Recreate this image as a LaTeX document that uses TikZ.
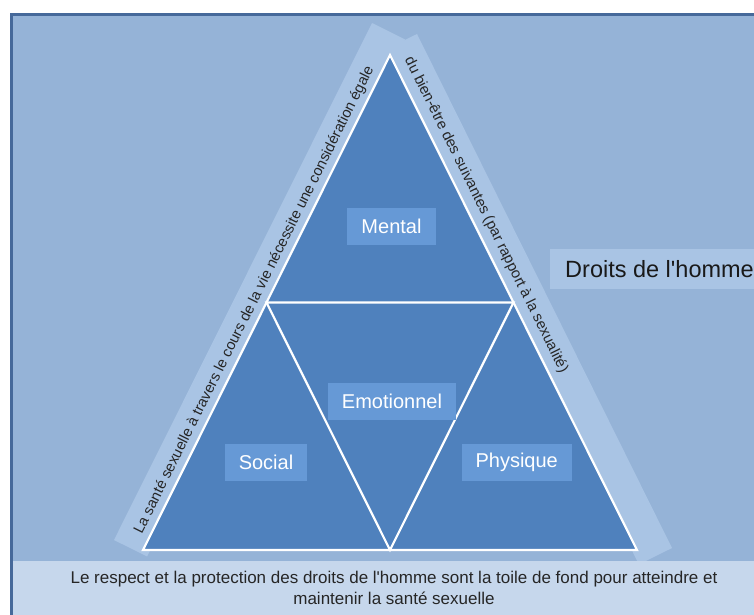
\documentclass[tikz,border=0pt]{standalone}
\usepackage{fontspec}
\setmainfont{Liberation Sans}
\usepackage{xcolor}
\usetikzlibrary{calc}
\definecolor{framebg}{HTML}{95B3D7}
\definecolor{frameline}{HTML}{46699A}
\definecolor{bandfill}{HTML}{A9C4E4}
\definecolor{footfill}{HTML}{C6D7EC}
\definecolor{trifill}{HTML}{4F81BD}
\definecolor{tagfill}{HTML}{6699D6}
\tikzset{
  base/.style={align=center, text=black},
  tag/.style={base, rectangle, fill=tagfill, text=white, font=\fontsize{20}{24}\selectfont, inner xsep=14pt, minimum height=37pt},
  bandtext/.style={base, text=black!85, font=\fontsize{14.8}{17}\selectfont, inner sep=0pt},
  band/.style={fill=bandfill},
  edge/.style={draw=white, line width=2.2pt, line join=miter}
}

\begin{document}
\begin{tikzpicture}[x=1pt, y=-1pt]
  \useasboundingbox (0,0) rectangle (754,614);
  \clip (0,0) rectangle (754,614);
  \fill[white] (0,0) rectangle (754,614);

  % Frame
  \draw[frameline, fill=framebg, line width=2.5pt] (11.25,14.25) rectangle (780,640);

  % Side bands
  \coordinate (rtop) at (417,34);
  \coordinate (rbot) at (672,548);
  \coordinate (rbotin) at (638.9,564.4);
  \coordinate (rtopin) at (383.9,50.4);
  \fill[band] (rtop) -- (rbot) -- (rbotin) -- (rtopin) -- cycle;
  \coordinate (ltop) at (372,23);
  \coordinate (lbot) at (114,540);
  \coordinate (lbotin) at (147.1,556.5);
  \coordinate (ltopin) at (405.1,39.5);
  \fill[band] (ltop) -- (lbot) -- (lbotin) -- (ltopin) -- cycle;

  % Bottom band
  \fill[footfill] (12.5,561) rectangle (780,640);
  \node[base, font=\fontsize{17}{21}\selectfont, text=black!85] (footer) at (394,588)
    {Le respect et la protection des droits de l\textquotesingle homme sont la toile de fond pour atteindre et\\maintenir la santé sexuelle};

  % Triangle
  \coordinate (apex) at (390,55);
  \coordinate (bl) at (143,550);
  \coordinate (br) at (637,550);
  \coordinate (ml) at ($(apex)!0.5!(bl)$);
  \coordinate (mr) at ($(apex)!0.5!(br)$);
  \coordinate (mb) at ($(bl)!0.5!(br)$);
  \fill[trifill] (apex) -- (bl) -- (br) -- cycle;
  \draw[edge] (apex) -- (bl) -- (br) -- cycle;
  \draw[edge] (ml) -- (mr) -- (mb) -- cycle;

  % Labels
  \node[tag] (mental) at (391.5,226) {Mental};
  \node[tag] (emotion) at (392,401) {Emotionnel};
  \node[tag] (social) at (266,462.5) {Social};
  \node[tag] (physique) at (516.7,462.5) {Physique};

  % Band texts
  \node[bandtext, rotate=63.5] (lefttext) at (254.4,300)
    {La santé sexuelle à travers le cours de la vie nécessite une considération égale};
  \node[bandtext, rotate=-63.6] (righttext) at (486.1,215)
    {du bien-être des suivantes (par rapport à la sexualité)};

  % Rights
  \node[base, anchor=west, fill=bandfill, font=\fontsize{23.5}{28}\selectfont, text=black!90, inner xsep=15pt, minimum height=40pt] (rights) at (550,269) {Droits de l\textquotesingle homme};
\end{tikzpicture}
\end{document}
